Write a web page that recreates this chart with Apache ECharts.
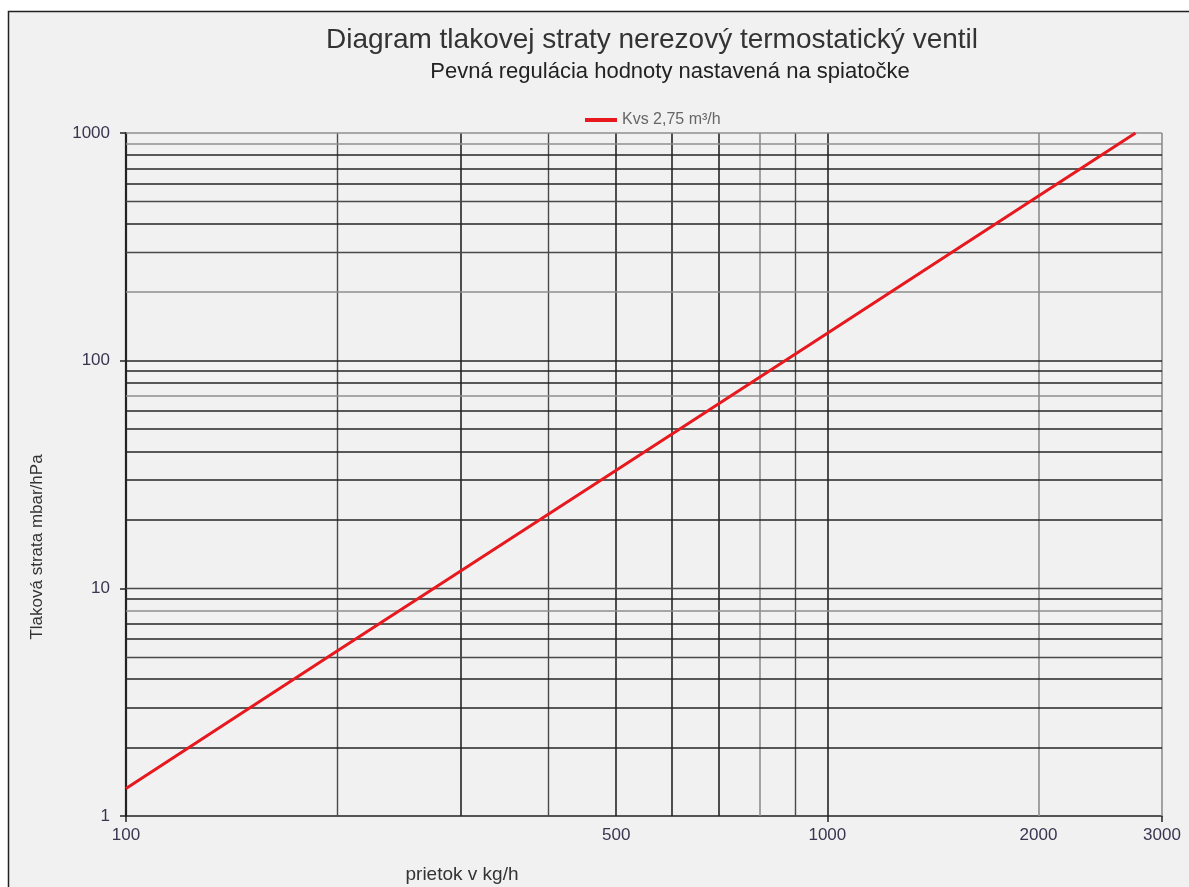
<!DOCTYPE html>
<html>
<head>
<meta charset="utf-8">
<script src="https://cdn.jsdelivr.net/npm/echarts@6/dist/echarts.min.js"></script>
<style>
html,body{margin:0;padding:0;background:#ffffff;}
#chart{width:1189px;height:887px;}
</style>
</head>
<body>
<div id="chart"></div>
<script>
// ---- data ----
const flowKgH = [100, 200, 500, 1000, 2000, 2750];
const pressureMbar = [1.32, 5.3, 33, 132, 529, 1000];
const seriesName = 'Kvs 2,75 m³/h';
const xLabelValues = [100, 500, 1000, 2000, 3000];
const yLabelValues = [1, 10, 100, 1000];
const xGridValues = [200, 300, 400, 500, 600, 700, 800, 900, 1000, 2000, 3000];
const yGridValues = [2, 3, 4, 5, 6, 7, 8, 9, 10, 20, 30, 40, 50, 60, 70, 80, 90, 100, 200, 300, 400, 500, 600, 700, 800, 900, 1000];
const titleText = 'Diagram tlakovej straty nerezový termostatický ventil';
const subtitleText = 'Pevná regulácia hodnoty nastavená na spiatočke';
const xName = 'prietok v kg/h';
const yName = 'Tlaková strata mbar/hPa';

// ---- styles for grid lines ----
const lightLines = {x: [800, 2000, 3000], y: [1000, 900, 200, 70, 8]};
const mediumLines = {x: [200, 400, 900], y: [500, 300, 10, 5]};
function gridStyle(axis, v) {
  if (lightLines[axis].includes(v)) return {color: '#8e8e8e', width: 1.6, type: 'solid'};
  if (mediumLines[axis].includes(v)) return {color: '#4a4a4a', width: 1.4, type: 'solid'};
  return {color: '#252525', width: 1.6, type: 'solid'};
}
const gridMarks = [];
xGridValues.forEach(v => gridMarks.push({xAxis: v, lineStyle: gridStyle('x', v)}));
yGridValues.forEach(v => gridMarks.push({yAxis: v, lineStyle: gridStyle('y', v)}));

const chart = echarts.init(document.getElementById('chart'), null, {renderer: 'canvas'});
const labelColor = '#3a3450';
const fontFam = '"Liberation Sans", Arial, sans-serif';

chart.setOption({
  animation: false,
  backgroundColor: '#ffffff',
  textStyle: {fontFamily: fontFam},
  graphic: [
    {type: 'rect', z: -10, silent: true,
      shape: {x: 8.5, y: 11.5, width: 1200, height: 900},
      style: {fill: '#f1f1f1', stroke: '#222', lineWidth: 1.5}},
    {type: 'text', silent: true, x: 37, y: 547, rotation: Math.PI / 2,
      style: {text: yName, fill: '#333', font: '17px ' + fontFam, align: 'center', verticalAlign: 'middle'}},
    {type: 'text', silent: true, x: 462, y: 875,
      style: {text: xName, fill: '#333', font: '19px ' + fontFam, align: 'center', verticalAlign: 'middle'}}
  ],
  title: [
    {
      text: titleText,
      left: 647, top: 21, textAlign: 'center',
      textStyle: {fontSize: 28, fontWeight: 'normal', color: '#333', fontFamily: fontFam}
    },
    {
      text: subtitleText,
      left: 665, top: 56, textAlign: 'center',
      textStyle: {fontSize: 22, fontWeight: 'normal', color: '#222', fontFamily: fontFam}
    }
  ],
  legend: {
    top: 107, left: 580,
    itemWidth: 32, itemHeight: 4, itemGap: 10,
    icon: 'rect',
    textStyle: {fontSize: 16, color: '#666', fontFamily: fontFam},
    data: [seriesName]
  },
  grid: {left: 126, top: 133, width: 1036, height: 683, containLabel: false},
  xAxis: {
    type: 'log', logBase: 10, min: 100, max: 3000,
    axisLine: {show: true, lineStyle: {color: '#222', width: 1.5}},
    axisTick: {show: true, length: 6, lineStyle: {color: '#222', width: 1.5}},
    axisLabel: {customValues: xLabelValues, color: labelColor, fontSize: 17, margin: 11,
      formatter: v => String(Math.round(v))},
    splitLine: {show: false}, minorTick: {show: false}, minorSplitLine: {show: false}
  },
  yAxis: {
    type: 'log', logBase: 10, min: 1, max: 1000,
    axisLine: {show: true, lineStyle: {color: '#222', width: 2.2}},
    axisTick: {show: true, length: 6, lineStyle: {color: '#222', width: 1.5}},
    axisLabel: {customValues: yLabelValues, color: labelColor, fontSize: 17, margin: 16,
      formatter: v => String(Math.round(v))},
    splitLine: {show: false}
  },
  series: [
    {
      type: 'line', name: 'grid', data: [], z: 1, silent: true,
      markLine: {silent: true, symbol: 'none', animation: false, label: {show: false},
        emphasis: {disabled: true}, data: gridMarks}
    },
    {
      type: 'line', name: seriesName, z: 5,
      data: flowKgH.map((x, i) => [x, pressureMbar[i]]),
      showSymbol: false, symbol: 'none',
      lineStyle: {color: '#e8191e', width: 3},
      itemStyle: {color: '#e8191e'},
      clip: true
    }
  ]
});
</script>
</body>
</html>
